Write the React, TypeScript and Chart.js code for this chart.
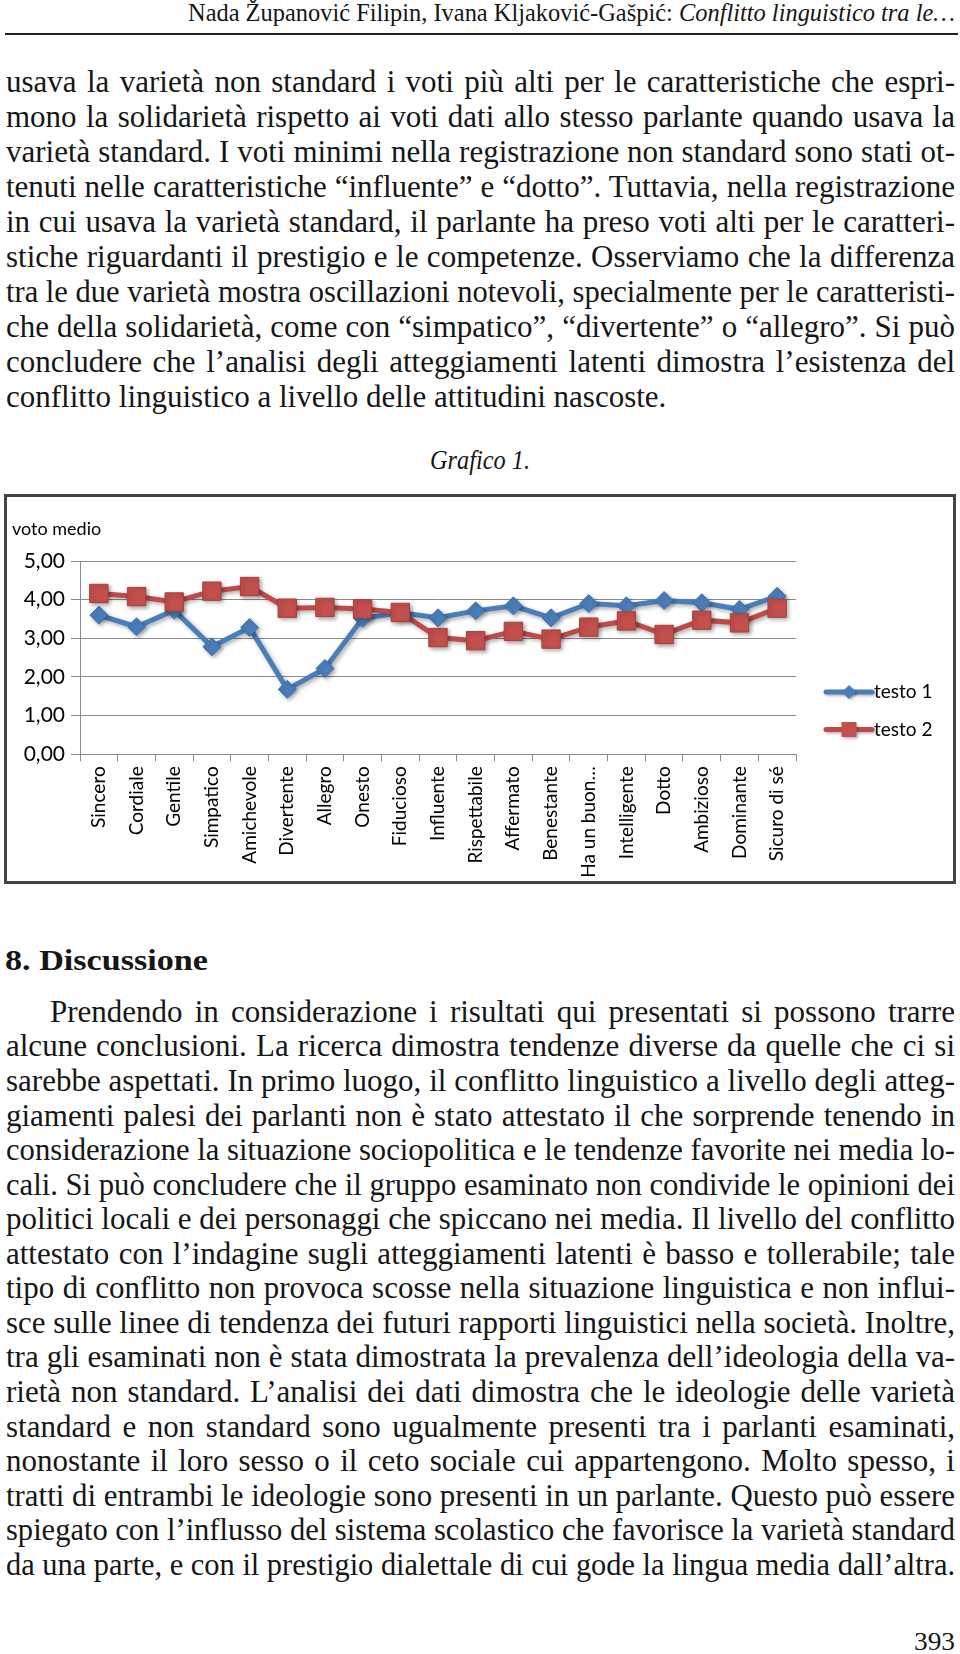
import React, { useEffect, useLayoutEffect, useRef } from 'react';
import { Chart, registerables } from 'chart.js';

Chart.register(...registerables);

// ---------- chart data ----------
const categories = [
  'Sincero', 'Cordiale', 'Gentile', 'Simpatico', 'Amichevole', 'Divertente', 'Allegro',
  'Onesto', 'Fiducioso', 'Influente', 'Rispettabile', 'Affermato', 'Benestante',
  'Ha un buon…', 'Intelligente', 'Dotto', 'Ambizioso', 'Dominante', 'Sicuro di sé',
];
const testo1 = [3.6, 3.3, 3.73, 2.78, 3.28, 1.68, 2.22, 3.52, 3.66, 3.53, 3.71, 3.84, 3.53, 3.9, 3.84, 3.98, 3.92, 3.75, 4.09];
const testo2 = [4.16, 4.08, 3.94, 4.22, 4.34, 3.78, 3.8, 3.76, 3.67, 3.02, 2.94, 3.18, 2.98, 3.29, 3.45, 3.1, 3.47, 3.4, 3.78];
const seriesNames = ['testo 1', 'testo 2'];
const yTickLabels = ['0,00', '1,00', '2,00', '3,00', '4,00', '5,00'];
const yAxisTitle = 'voto medio';

// ---------- page text ----------
const headerAuthors = 'Nada Županović Filipin, Ivana Kljaković-Gašpić: ';
const headerTitle = 'Conflitto linguistico tra le…';
const para1Lines = [
  'usava la varietà non standard i voti più alti per le caratteristiche che espri-',
  'mono la solidarietà rispetto ai voti dati allo stesso parlante quando usava la',
  'varietà standard. I voti minimi nella registrazione non standard sono stati ot-',
  'tenuti nelle caratteristiche “influente” e “dotto”. Tuttavia, nella registrazione',
  'in cui usava la varietà standard, il parlante ha preso voti alti per le caratteri-',
  'stiche riguardanti il prestigio e le competenze. Osserviamo che la differenza',
  'tra le due varietà mostra oscillazioni notevoli, specialmente per le caratteristi-',
  'che della solidarietà, come con “simpatico”, “divertente” o “allegro”. Si può',
  'concludere che l’analisi degli atteggiamenti latenti dimostra l’esistenza del',
  'conflitto linguistico a livello delle attitudini nascoste.',
];
const figureCaption = 'Grafico 1.';
const sectionTitle = '8. Discussione';
const para2Lines = [
  'Prendendo in considerazione i risultati qui presentati si possono trarre',
  'alcune conclusioni. La ricerca dimostra tendenze diverse da quelle che ci si',
  'sarebbe aspettati. In primo luogo, il conflitto linguistico a livello degli atteg-',
  'giamenti palesi dei parlanti non è stato attestato il che sorprende tenendo in',
  'considerazione la situazione sociopolitica e le tendenze favorite nei media lo-',
  'cali. Si può concludere che il gruppo esaminato non condivide le opinioni dei',
  'politici locali e dei personaggi che spiccano nei media. Il livello del conflitto',
  'attestato con l’indagine sugli atteggiamenti latenti è basso e tollerabile; tale',
  'tipo di conflitto non provoca scosse nella situazione linguistica e non influi-',
  'sce sulle linee di tendenza dei futuri rapporti linguistici nella società. Inoltre,',
  'tra gli esaminati non è stata dimostrata la prevalenza dell’ideologia della va-',
  'rietà non standard. L’analisi dei dati dimostra che le ideologie delle varietà',
  'standard e non standard sono ugualmente presenti tra i parlanti esaminati,',
  'nonostante il loro sesso o il ceto sociale cui appartengono. Molto spesso, i',
  'tratti di entrambi le ideologie sono presenti in un parlante. Questo può essere',
  'spiegato con l’influsso del sistema scolastico che favorisce la varietà standard',
  'da una parte, e con il prestigio dialettale di cui gode la lingua media dall’altra.',
];
const pageNumber = '393';

const SERIF = '"Liberation Serif", "Times New Roman", serif';
const TEXT_COLOR = '#161616';

function fitAll(root: HTMLElement) {
  const els = root.querySelectorAll<HTMLElement>('[data-fit]');
  els.forEach((el) => {
    const W = parseFloat(el.dataset.fit || '0');
    const mode = el.dataset.mode || 'scale';
    el.style.wordSpacing = '0px';
    el.style.transform = 'none';
    const w = el.getBoundingClientRect().width;
    if (!w || !W) return;
    if (mode === 'justify') {
      const n = ((el.textContent || '').match(/ /g) || []).length;
      if (w < W && n > 0) {
        el.style.wordSpacing = `${(W - w) / n}px`;
        return;
      }
      el.style.transform = `scaleX(${W / w})`;
    } else if (mode === 'max') {
      if (w > W) el.style.transform = `scaleX(${W / w})`;
    } else {
      el.style.transform = `scaleX(${W / w})`;
    }
  });
}

type LineProps = {
  top: number;
  left: number;
  width: number;
  fontSize: number;
  lineHeight: number;
  mode: 'justify' | 'scale' | 'max';
  style?: React.CSSProperties;
  children: React.ReactNode;
};

// every line is anchored at its left edge; 'scale' lines are stretched to exactly `width`
function Line({ top, left, width, fontSize, lineHeight, mode, style, children }: LineProps) {
  return (
    <div
      style={{
        position: 'absolute',
        top,
        left,
        width,
        height: lineHeight,
        textAlign: 'left',
        whiteSpace: 'pre',
      }}
    >
      <span
        data-fit={width}
        data-mode={mode}
        style={{
          display: 'inline-block',
          whiteSpace: 'pre',
          fontFamily: SERIF,
          fontSize,
          lineHeight: `${lineHeight}px`,
          color: TEXT_COLOR,
          transformOrigin: 'left center',
          ...style,
        }}
      >
        {children}
      </span>
    </div>
  );
}

// offset from line-box top to baseline for Liberation Serif
function baselineOffset(fontSize: number, lineHeight: number) {
  return (lineHeight - 1.107 * fontSize) / 2 + 0.891 * fontSize;
}

function ChartBox() {
  const ref = useRef<HTMLCanvasElement>(null);
  useEffect(() => {
    if (!ref.current) return;
    const blue = '#4A7EBB';
    const red = '#BE4B48';
    const gridColor = '#8a8a8a';

    const shadowPlugin = {
      id: 'shadowPlugin',
      beforeDatasetDraw(chart: any) {
        const c = chart.ctx;
        c.save();
        c.shadowColor = 'rgba(0,0,0,0.33)';
        c.shadowBlur = 4;
        c.shadowOffsetX = 2;
        c.shadowOffsetY = 2;
      },
      afterDatasetDraw(chart: any) {
        chart.ctx.restore();
      },
    };

    const extrasPlugin = {
      id: 'extrasPlugin',
      afterDraw(chart: any) {
        const c = chart.ctx as CanvasRenderingContext2D;
        const area = chart.chartArea;
        c.save();
        c.fillStyle = '#000';
        c.textBaseline = 'middle';
        c.textAlign = 'left';
        c.font = '18px Lato';
        c.fillText(yAxisTitle, 5, 32);

        // legend
        const lx0 = area.right + 30;
        const lx1 = lx0 + 46;
        const mx = (lx0 + lx1) / 2;
        const rows = [area.top + 131, area.top + 168.5];
        chart.data.datasets.forEach((ds: any, i: number) => {
          const y = rows[i];
          c.save();
          c.shadowColor = 'rgba(0,0,0,0.3)';
          c.shadowBlur = 3;
          c.shadowOffsetX = 1.5;
          c.shadowOffsetY = 1.5;
          c.strokeStyle = ds.borderColor;
          c.lineWidth = 5;
          c.lineCap = 'round';
          c.beginPath();
          c.moveTo(lx0, y);
          c.lineTo(lx1, y);
          c.stroke();
          c.fillStyle = ds.pointBackgroundColor;
          c.beginPath();
          if (ds.pointStyle === 'rectRot') {
            const r = 7;
            c.moveTo(mx, y - r);
            c.lineTo(mx + r, y);
            c.lineTo(mx, y + r);
            c.lineTo(mx - r, y);
            c.closePath();
          } else {
            const s = 7.5;
            c.rect(mx - s, y - s, 2 * s, 2 * s);
          }
          c.fill();
          c.restore();
          c.fillStyle = '#000';
          c.font = '19px Lato';
          c.fillText(ds.label, lx1 + 2, y);
        });
        c.restore();
      },
    };

    const chart = new Chart(ref.current, {
      type: 'line',
      data: {
        labels: categories,
        datasets: [
          {
            label: seriesNames[0],
            data: testo1,
            borderColor: blue,
            backgroundColor: blue,
            borderWidth: 5,
            pointStyle: 'rectRot',
            pointRadius: 9,
            pointBackgroundColor: blue,
            pointBorderColor: '#3f70ab',
            pointBorderWidth: 1,
            tension: 0,
            order: 1,
          },
          {
            label: seriesNames[1],
            data: testo2,
            borderColor: red,
            backgroundColor: red,
            borderWidth: 5,
            pointStyle: 'rect',
            pointRadius: 13,
            pointBackgroundColor: '#C4504D',
            pointBorderColor: '#a8403d',
            pointBorderWidth: 1,
            tension: 0,
            order: 0,
          },
        ],
      },
      options: {
        responsive: false,
        animation: false,
        devicePixelRatio: 1,
        events: [],
        layout: { padding: { left: 0, right: 157, top: 64, bottom: 0 } },
        plugins: {
          legend: { display: false },
          tooltip: { enabled: false },
          title: { display: false },
        },
        scales: {
          x: {
            type: 'category',
            offset: true,
            grid: {
              display: true,
              drawOnChartArea: false,
              drawTicks: true,
              tickLength: 7,
              color: gridColor,
              offset: true,
            },
            border: { display: true, color: gridColor, width: 1 },
            ticks: {
              autoSkip: false,
              maxRotation: 90,
              minRotation: 90,
              padding: 5,
              color: '#000',
              font: { family: 'Lato', size: 19 },
            },
            afterFit: (s: any) => {
              s.height = 126.7;
            },
          },
          y: {
            min: 0,
            max: 5,
            ticks: {
              stepSize: 1,
              padding: 6,
              color: '#000',
              font: { family: 'Lato', size: 21 },
              callback: (_v: any, i: number) => yTickLabels[i],
            },
            grid: { color: gridColor, tickLength: 9, drawTicks: true, lineWidth: 1 },
            border: { display: true, color: gridColor, width: 1 },
            afterFit: (s: any) => {
              s.width = 73;
            },
          },
        },
      } as any,
      plugins: [shadowPlugin, extrasPlugin],
    });
    return () => chart.destroy();
  }, []);

  return (
    <>
      <div
        style={{
          position: 'absolute',
          left: 4,
          top: 494,
          width: 952,
          height: 390,
          boxSizing: 'border-box',
          border: '3px solid #444',
          background: '#fff',
        }}
      />
      <canvas
        ref={ref}
        width={946}
        height={384}
        style={{ position: 'absolute', left: 7, top: 497, width: 946, height: 384 }}
      />
    </>
  );
}

export default function App() {
  const rootRef = useRef<HTMLDivElement>(null);

  useLayoutEffect(() => {
    const root = rootRef.current;
    if (!root) return;
    fitAll(root);
    const fonts = (document as any).fonts;
    if (fonts && fonts.ready) fonts.ready.then(() => fitAll(root));
  }, []);

  const BODY = 31;
  const LH = 36;
  const bo = baselineOffset(BODY, LH);
  const p1Base = 92;
  const p1Step = 35.04;
  const p2Base = 1022.4;
  const p2Step = 34.55;

  return (
    <div
      ref={rootRef}
      style={{
        position: 'absolute',
        left: 0,
        top: 0,
        width: 960,
        height: 1654,
        overflow: 'hidden',
        background: '#fff',
      }}
    >
      {/* running header */}
      <Line top={-3} left={188} width={767} fontSize={25} lineHeight={32} mode="scale">
        {headerAuthors}
        <span style={{ fontStyle: 'italic' }}>{headerTitle}</span>
      </Line>
      <div style={{ position: 'absolute', left: 5, top: 33, width: 953, height: 1.6, background: '#222' }} />

      {/* paragraph 1 */}
      {para1Lines.map((t, i) => (
        <Line
          key={'p1' + i}
          top={p1Base + i * p1Step - bo}
          left={6}
          width={949}
          fontSize={BODY}
          lineHeight={LH}
          mode={i === para1Lines.length - 1 ? 'max' : 'justify'}
        >
          {t}
        </Line>
      ))}

      {/* caption */}
      <Line top={443} left={430} width={100} fontSize={27} lineHeight={34} mode="scale" style={{ fontStyle: 'italic' }}>
        {figureCaption}
      </Line>

      <ChartBox />

      {/* section title */}
      <Line top={941} left={5} width={203} fontSize={30} lineHeight={38} mode="scale" style={{ fontWeight: 'bold' }}>
        {sectionTitle}
      </Line>

      {/* paragraph 2 */}
      {para2Lines.map((t, i) => (
        <Line
          key={'p2' + i}
          top={p2Base + i * p2Step - bo}
          left={i === 0 ? 50 : 6}
          width={i === 0 ? 905 : 949}
          fontSize={BODY}
          lineHeight={LH}
          mode="justify"
        >
          {t}
        </Line>
      ))}

      {/* page number */}
      <Line top={1626} left={914} width={41} fontSize={25} lineHeight={32} mode="scale">
        {pageNumber}
      </Line>
    </div>
  );
}
